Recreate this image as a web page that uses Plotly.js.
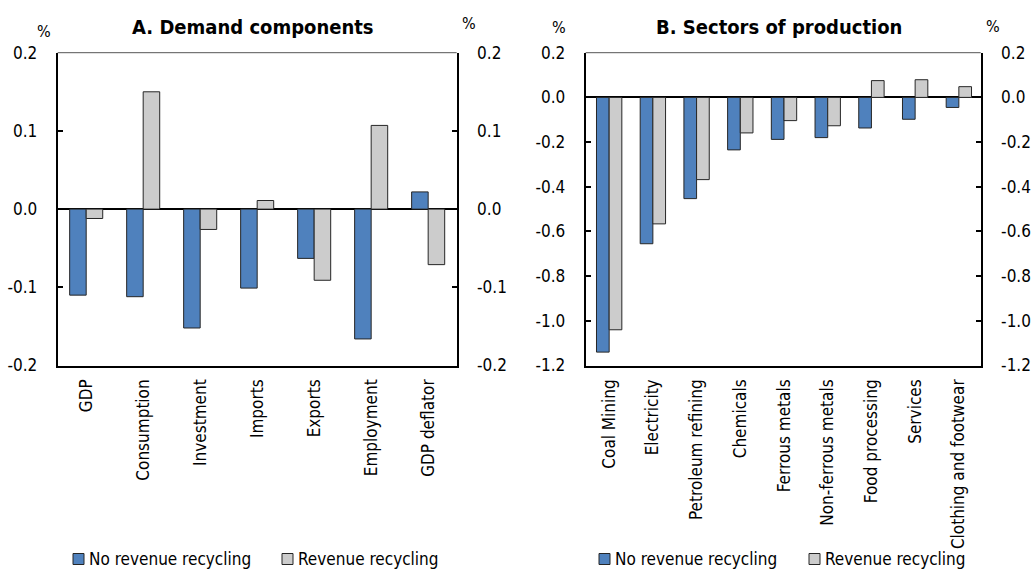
<!DOCTYPE html>
<html>
<head>
<meta charset="utf-8">
<script src="https://cdn.plot.ly/plotly-3.0.1.min.js"></script>
<style>
  html, body { margin: 0; padding: 0; background: #ffffff; }
  #chart { width: 1032px; height: 569px; }
</style>
</head>
<body>
<div id="chart"></div>
<script>
// Panel A: demand components (% change)
const demandCategories = ['GDP', 'Consumption', 'Investment', 'Imports', 'Exports', 'Employment', 'GDP deflator'];
const demandNoRecycling = [-0.110, -0.112, -0.152, -0.101, -0.063, -0.166, 0.022];
const demandRecycling   = [-0.012,  0.150, -0.026,  0.011, -0.091,  0.107, -0.071];

// Panel B: sectors of production (% change)
const sectorCategories = ['Coal Mining', 'Electricity', 'Petroleum refining', 'Chemicals', 'Ferrous metals',
                          'Non-ferrous metals', 'Food processing', 'Services', 'Clothing and footwear'];
const sectorNoRecycling = [-1.14, -0.655, -0.453, -0.235, -0.188, -0.180, -0.137, -0.098, -0.045];
const sectorRecycling   = [-1.04, -0.566, -0.368, -0.159, -0.104, -0.127,  0.075,  0.079,  0.048];

// Tick values and labels (plain hyphen minus)
const demandTickVals = [-0.2, -0.1, 0.0, 0.1, 0.2];
const demandTickText = ['-0.2', '-0.1', '0.0', '0.1', '0.2'];
const sectorTickVals = [-1.2, -1.0, -0.8, -0.6, -0.4, -0.2, 0.0, 0.2];
const sectorTickText = ['-1.2', '-1.0', '-0.8', '-0.6', '-0.4', '-0.2', '0.0', '0.2'];

const seriesNames = ['No revenue recycling', 'Revenue recycling'];

const FONT = '"DejaVu Sans Condensed", "Liberation Sans Narrow", "Arial Narrow", sans-serif';
const BLUE = '#4f81bd';
const GREY = '#cccccc';
const EDGE = '#262626';
const W = 1032, H = 569;

function bars(x, y, name, color, xa, ya) {
  return { type: 'bar', x: x, y: y, name: name, xaxis: xa, yaxis: ya, showlegend: false,
           hoverinfo: 'skip', marker: { color: color, line: { color: EDGE, width: 1 } } };
}
// empty helper series so the right-hand value axes get drawn
function axisHolder(x, xa, ya) {
  return { type: 'scatter', mode: 'markers', x: [x[0]], y: [null], xaxis: xa, yaxis: ya,
           showlegend: false, hoverinfo: 'skip' };
}

const traces = [
  bars(demandCategories, demandNoRecycling, seriesNames[0], BLUE, 'x', 'y'),
  bars(demandCategories, demandRecycling, seriesNames[1], GREY, 'x', 'y'),
  bars(sectorCategories, sectorNoRecycling, seriesNames[0], BLUE, 'x2', 'y3'),
  bars(sectorCategories, sectorRecycling, seriesNames[1], GREY, 'x2', 'y3'),
  axisHolder(demandCategories, 'x', 'y2'),
  axisHolder(sectorCategories, 'x2', 'y4')
];

const yDomain = [0.3576, 0.9074];
const domA = [0.0559, 0.4425];
const domB = [0.5675, 0.9503];

function xAxis(domain, anchor) {
  return {
    domain: domain, anchor: anchor, type: 'category',
    showline: true, linecolor: '#000', linewidth: 2,
    ticks: '', showgrid: false, zeroline: false,
    tickangle: -90, ticklabelstandoff: 5,
    tickfont: { family: FONT, size: 17, color: '#000' },
    fixedrange: true
  };
}
function yAxis(range, vals, text, anchor, side, overlay) {
  const ax = {
    anchor: anchor, side: side, range: range,
    tickmode: 'array', tickvals: vals, ticktext: text,
    showline: true, linecolor: '#000', linewidth: 2,
    ticks: 'inside', ticklen: 5, tickwidth: 2, tickcolor: '#000',
    ticklabelstandoff: 15,
    showgrid: false,
    tickfont: { family: FONT, size: 17, color: '#000' },
    fixedrange: true
  };
  if (overlay) { ax.overlaying = overlay; ax.zeroline = false; }
  else { ax.domain = yDomain; ax.zeroline = true; ax.zerolinecolor = '#000'; ax.zerolinewidth = 2; }
  return ax;
}

function txt(text, x, y, size, bold, anchor) {
  return {
    text: bold ? '<b>' + text + '</b>' : text, xref: 'paper', yref: 'paper',
    x: x, y: y, xanchor: anchor || 'center', yanchor: 'middle', showarrow: false,
    font: { family: FONT, size: size, color: '#000' }
  };
}

// Legend key under each panel: swatch + label, positions in pixels
const shapes = [
  { type: 'line', xref: 'x domain', yref: 'y domain', x0: 0, x1: 1, y0: 1, y1: 1,
    line: { color: '#555', width: 1 } },
  { type: 'line', xref: 'x2 domain', yref: 'y3 domain', x0: 0, x1: 1, y0: 1, y1: 1,
    line: { color: '#555', width: 1 } }
];
const annotations = [
  txt('A. Demand components', 0.2447, 0.9525, 20, true),
  txt('B. Sectors of production', 0.7549, 0.9525, 20, true),
  txt('%', 0.0426, 0.9455, 16, false),
  txt('%', 0.4545, 0.9595, 16, false),
  txt('%', 0.5417, 0.9508, 16, false),
  txt('%', 0.9622, 0.9543, 16, false)
];
const keyRowY = 559;
const keyStarts = [[73, 282], [599, 809]];
const keyColors = [BLUE, GREY];
keyStarts.forEach(function (row) {
  row.forEach(function (px, i) {
    shapes.push({
      type: 'rect', xref: 'paper', yref: 'paper',
      x0: px / W, x1: (px + 11) / W,
      y0: 1 - (keyRowY + 5.5) / H, y1: 1 - (keyRowY - 5.5) / H,
      fillcolor: keyColors[i], line: { color: EDGE, width: 1 }
    });
    annotations.push(txt(seriesNames[i], (px + 14) / W, 1 - keyRowY / H, 17, false, 'left'));
  });
});

const layout = {
  width: W, height: H,
  margin: { l: 0, r: 0, t: 0, b: 0 },
  paper_bgcolor: '#fff', plot_bgcolor: '#fff',
  showlegend: false,
  barmode: 'group', bargap: 0.42, bargroupgap: 0,
  xaxis: xAxis(domA, 'y'),
  yaxis: yAxis([-0.2, 0.2], demandTickVals, demandTickText, 'x', 'left', null),
  yaxis2: yAxis([-0.2, 0.2], demandTickVals, demandTickText, 'x', 'right', 'y'),
  xaxis2: xAxis(domB, 'y3'),
  yaxis3: yAxis([-1.2, 0.2], sectorTickVals, sectorTickText, 'x2', 'left', null),
  yaxis4: yAxis([-1.2, 0.2], sectorTickVals, sectorTickText, 'x2', 'right', 'y3'),
  shapes: shapes,
  annotations: annotations
};

Plotly.newPlot('chart', traces, layout, { displayModeBar: false, staticPlot: true });
</script>
</body>
</html>
